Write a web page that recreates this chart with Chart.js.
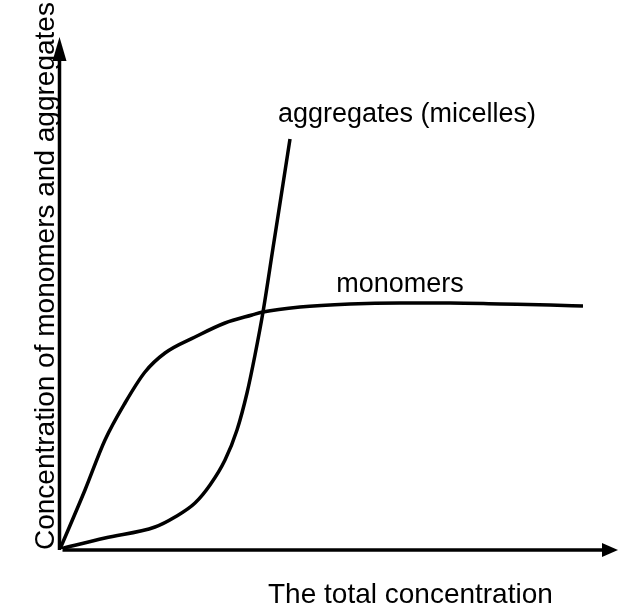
<!DOCTYPE html>
<html>
<head>
<meta charset="utf-8">
<script src="https://cdn.jsdelivr.net/npm/chart.js@4"></script>
<style>
  html, body { margin: 0; padding: 0; background: #fff; }
  #wrap { width: 619px; height: 609px; }
</style>
</head>
<body>
<div id="wrap"><canvas id="chart" width="619" height="609"></canvas></div>
<script>
// monomers curve
const monoX = [0, 25, 45, 65, 85, 105, 135, 165, 192, 203, 240, 290, 340, 390, 440, 490, 523];
const monoY = [0, 59, 109, 146, 177, 196, 212, 226, 234, 237, 242, 245, 246, 246, 245, 244, 243];

// aggregates (micelles) curve
const aggX = [0, 45, 95, 115, 135, 150, 165, 177, 187, 195, 203, 213, 223, 230];
const aggY = [0, 11, 22, 32, 46, 64, 89, 119, 156, 194, 237, 301, 365, 410];

const xTitle = "The total concentration";
const yTitle = "Concentration of monomers and aggregates";
const monoLabel = "monomers";
const aggLabel = "aggregates (micelles)";

function toPoints(xs, ys) {
    return xs.map((x, i) => ({ x: x, y: ys[i] }));
}

// axes with arrow heads + text labels
const decorations = {
    id: 'decorations',
    afterDraw(chart) {
        const ctx = chart.ctx;
        const xs = chart.scales.x, ys = chart.scales.y;
        const ox = xs.getPixelForValue(0) - 0.5;
        const oy = ys.getPixelForValue(0) + 1;

        ctx.save();
        ctx.strokeStyle = '#000';
        ctx.fillStyle = '#000';
        ctx.lineWidth = 3.5;

        // y axis
        ctx.beginPath();
        ctx.moveTo(ox, oy);
        ctx.lineTo(ox, 55);
        ctx.stroke();
        ctx.beginPath();
        ctx.moveTo(ox, 37);
        ctx.lineTo(ox - 7, 61);
        ctx.lineTo(ox + 7, 61);
        ctx.closePath();
        ctx.fill();

        // x axis
        ctx.beginPath();
        ctx.moveTo(ox + 3, oy);
        ctx.lineTo(605, oy);
        ctx.stroke();
        ctx.beginPath();
        ctx.moveTo(618, oy);
        ctx.lineTo(602, oy - 7);
        ctx.lineTo(602, oy + 7);
        ctx.closePath();
        ctx.fill();

        // texts
        ctx.font = '28px "Liberation Sans", Arial, sans-serif';
        ctx.textBaseline = 'alphabetic';
        ctx.textAlign = 'left';
        ctx.fillText(xTitle, 268, 603);

        ctx.save();
        ctx.translate(54, 550);
        ctx.rotate(-Math.PI / 2);
        ctx.fillText(yTitle, 0, 0);
        ctx.restore();

        ctx.font = '27px "Liberation Sans", Arial, sans-serif';
        ctx.fillText(aggLabel, 278, 122);
        ctx.textAlign = 'center';
        ctx.fillText(monoLabel, 400, 292);
        ctx.restore();
    }
};

new Chart(document.getElementById('chart'), {
    type: 'line',
    data: {
        datasets: [{
            label: monoLabel,
            data: toPoints(monoX, monoY),
            borderColor: '#000',
            borderWidth: 3.5,
            pointRadius: 0,
            cubicInterpolationMode: 'monotone',
            fill: false
        }, {
            label: aggLabel,
            data: toPoints(aggX, aggY),
            borderColor: '#000',
            borderWidth: 3.5,
            pointRadius: 0,
            cubicInterpolationMode: 'monotone',
            fill: false
        }]
    },
    options: {
        responsive: false,
        animation: false,
        layout: {
            padding: { left: 60, right: 0, top: 37, bottom: 60 }
        },
        plugins: {
            legend: { display: false },
            tooltip: { enabled: false }
        },
        scales: {
            x: { type: 'linear', min: 0, max: 559, display: false },
            y: { type: 'linear', min: 0, max: 512, display: false }
        }
    },
    plugins: [decorations]
});
</script>
</body>
</html>
